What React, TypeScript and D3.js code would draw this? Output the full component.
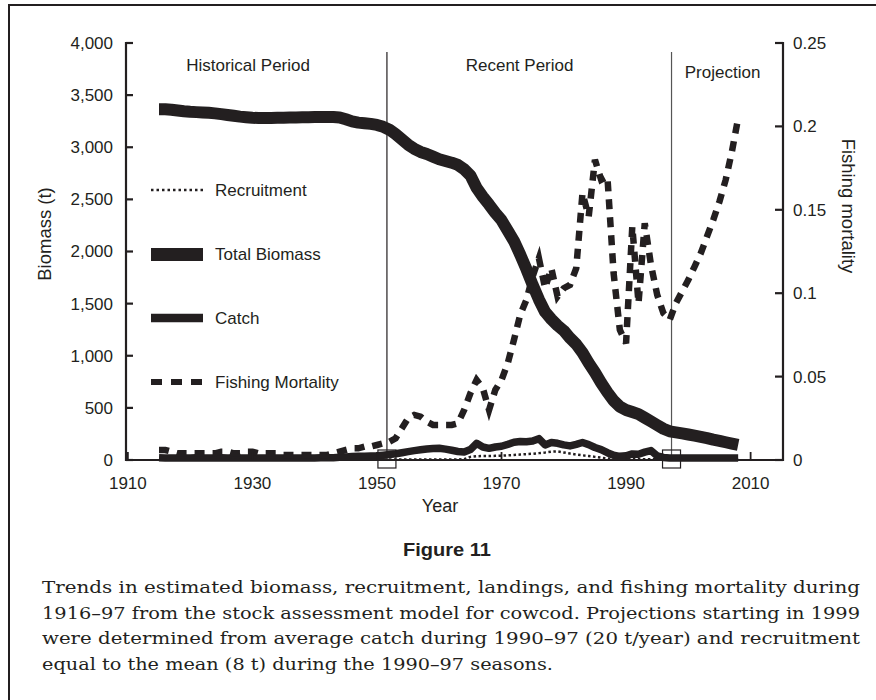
import React from "react";
import * as d3 from "d3";

// ---------- data ----------
const years: number[] = d3.range(1915, 2009);

const biomass: number[] = [
  3365, 3365, 3360, 3352, 3345, 3340, 3337, 3334, 3330, 3325,
  3318, 3310, 3302, 3294, 3288, 3283, 3280, 3280, 3280, 3282,
  3284, 3285, 3286, 3287, 3288, 3289, 3290, 3290, 3290, 3286,
  3268, 3248, 3236, 3230, 3224, 3214, 3196, 3168, 3125, 3075,
  3025, 2985, 2955, 2935, 2910, 2885, 2868, 2852, 2830, 2790,
  2730, 2610, 2525, 2450, 2370, 2300, 2200, 2100, 1970, 1830,
  1680, 1540, 1420, 1350, 1290, 1240, 1170, 1110, 1030, 930,
  840, 740, 650, 570, 512, 480, 460, 440, 405, 370,
  335, 300, 275, 265, 255, 245, 234, 222, 210, 196,
  184, 170, 157, 145,
];

const catchT: number[] = [
  22, 20, 20, 19, 20, 20, 21, 20, 20, 20,
  21, 20, 20, 20, 19, 20, 20, 20, 20, 19,
  19, 20, 20, 20, 20, 20, 21, 21, 22, 26,
  30, 33, 35, 37, 38, 40, 46, 53, 60, 70,
  80, 90, 98, 105, 110, 112, 104, 94, 82, 76,
  100, 160, 125, 112, 125, 132, 150, 170, 178, 175,
  182, 205, 145, 168, 160, 145, 135, 150, 168, 148,
  120, 100, 70, 45, 35, 40, 58, 55, 75, 90,
  40, 25, 20, 20, 20, 20, 20, 20, 20, 20,
  20, 20, 20, 20,
];

const recruitment: number[] = [
  5, 5, 5, 5, 5, 5, 5, 5, 5, 5,
  5, 5, 5, 5, 5, 5, 5, 5, 5, 5,
  5, 5, 5, 5, 5, 5, 5, 5, 5, 5,
  5, 5, 5, 5, 5, 5, 5, 5, 5, 5,
  5, 5, 5, 5, 5, 5, 5, 5, 5, 8,
  30, 36, 38, 38, 40, 42, 45, 48, 52, 56,
  60, 66, 72, 80, 82, 72, 62, 52, 45, 38,
  30, 22, 15, 10, 8, 8, 8, 8, 8, 8,
  8, 8, 8, 8, 8, 8, 8, 8, 8, 8,
  8, 8, 8, 8,
];

const fishingMortality: number[] = [
  0.006, 0.006, 0.005, 0.004, 0.004, 0.004, 0.004, 0.004, 0.004, 0.004,
  0.005, 0.005, 0.004, 0.004, 0.005, 0.005, 0.004, 0.004, 0.004, 0.004,
  0.003, 0.003, 0.003, 0.003, 0.003, 0.003, 0.003, 0.003, 0.004, 0.005,
  0.006, 0.007, 0.007, 0.008, 0.008, 0.009, 0.010, 0.011, 0.013, 0.019,
  0.025, 0.027, 0.026, 0.023, 0.021, 0.021, 0.021, 0.021, 0.022, 0.030,
  0.040, 0.048, 0.043, 0.030, 0.042, 0.048, 0.058, 0.072, 0.087, 0.096,
  0.110, 0.121, 0.103, 0.115, 0.098, 0.103, 0.105, 0.115, 0.160, 0.146,
  0.180, 0.168, 0.170, 0.112, 0.078, 0.070, 0.140, 0.094, 0.142, 0.117,
  0.099, 0.088, 0.084, 0.094, 0.101, 0.108, 0.116, 0.124, 0.134, 0.144,
  0.155, 0.168, 0.185, 0.205,
];

const biomassTicks: number[] = [0, 500, 1000, 1500, 2000, 2500, 3000, 3500, 4000];
const fTicks: number[] = [0, 0.05, 0.1, 0.15, 0.2, 0.25];
const fTickLabels: string[] = ["0", "0.05", "0.1", "0.15", "0.2", "0.25"];
const yearTicks: number[] = [1910, 1930, 1950, 1970, 1990, 2010];

const periodBounds: number[] = [1951.6, 1997.3];
const periodLabels: string[] = ["Historical Period", "Recent Period", "Projection"];
const periodLabelYears: number[] = [1929.3, 1972.9, 2005.5];

const legendLabels: string[] = ["Recruitment", "Total Biomass", "Catch", "Fishing Mortality"];

const captionTitle = "Figure 11";
const captionLines: string[] = [
  "Trends in estimated biomass, recruitment, landings, and fishing mortality during",
  "1916–97 from the stock assessment model for cowcod. Projections starting in 1999",
  "were determined from average catch during 1990–97 (20 t/year) and recruitment",
  "equal to the mean (8 t) during the 1990–97 seasons.",
];
const captionWidths: number[] = [818, 818, 818, 511];

// ---------- layout ----------
const W = 876;
const H = 700;
const INK = "#231f20";
const SANS = "'Liberation Sans', Arial, Helvetica, sans-serif";
const SERIF = "'DejaVu Serif', 'Liberation Serif', serif";

const x = d3.scaleLinear().domain([1909.7, 2015.2]).range([126, 783]);
const yL = d3.scaleLinear().domain([0, 4000]).range([460, 43]);
const yR = d3.scaleLinear().domain([0, 0.25]).range([460, 43]);

const fmt = d3.format(",");

export default function App() {
  const lineL = (vals: number[]) =>
    d3
      .line<number>()
      .x((_, i) => x(years[i]))
      .y((d) => yL(d))(vals) || "";
  const lineR = (vals: number[]) =>
    d3
      .line<number>()
      .x((_, i) => x(years[i]))
      .y((d) => yR(d))(vals) || "";

  const axisL = x.range()[0];
  const axisR = x.range()[1];
  const y0 = yL(0);
  const yTop = yL(4000);

  const legendX0 = 151;
  const legendX1 = 203;
  const legendYs = [190, 254.5, 318, 382];

  return (
    <svg
      width={W}
      height={H}
      viewBox={`0 0 ${W} ${H}`}
      style={{ position: "absolute", left: 0, top: 0, background: "#fff" }}
    >
      <rect x={0} y={0} width={W} height={H} fill="#fff" />
      {/* frame */}
      <rect x={9} y={5} width={900} height={720} fill="none" stroke={INK} strokeWidth={2} />

      {/* period boundaries */}
      {periodBounds.map((b, i) => (
        <line key={"pb" + i} x1={x(b)} x2={x(b)} y1={52} y2={y0} stroke={i === 0 ? INK : "#555"} strokeWidth={1.2} />
      ))}
      {periodLabels.map((t, i) => (
        <text
          key={"pl" + i}
          x={x(periodLabelYears[i])}
          y={i === 2 ? 72 : 65}
          dy="0.35em"
          textAnchor="middle"
          fontFamily={SANS}
          fontSize={17}
          fill={INK}
        >
          {t}
        </text>
      ))}

      {/* series */}
      <path d={lineL(biomass)} fill="none" stroke={INK} strokeWidth={12} strokeLinejoin="round" />
      <path d={lineL(catchT)} fill="none" stroke={INK} strokeWidth={7.5} strokeLinejoin="round" />
      <path d={lineL(recruitment)} fill="none" stroke={INK} strokeWidth={2.5} strokeDasharray="2.5,2.5" />
      <path d={lineR(fishingMortality)} fill="none" stroke={INK} strokeWidth={6.5} strokeDasharray="10,8" />

      {/* boundary squares */}
      {periodBounds.map((b, i) => (
        <rect key={"sq" + i} x={x(b) - 9} y={y0 - 10} width={18} height={18} fill="none" stroke={INK} strokeWidth={1.2} />
      ))}

      {/* axes */}
      <line x1={axisL} x2={axisR} y1={y0} y2={y0} stroke={INK} strokeWidth={2.2} />
      <line x1={axisL} x2={axisL} y1={yTop - 1} y2={y0 + 1} stroke={INK} strokeWidth={2.2} />
      <line x1={axisR} x2={axisR} y1={yR(0.25) - 1} y2={y0 + 1} stroke={INK} strokeWidth={2.2} />

      {biomassTicks.map((v) => (
        <g key={"lt" + v}>
          <line x1={axisL} x2={axisL + 7} y1={yL(v)} y2={yL(v)} stroke={INK} strokeWidth={2.2} />
          <text x={113} y={yL(v)} dy="0.35em" textAnchor="end" fontFamily={SANS} fontSize={17} fill={INK}>
            {fmt(v)}
          </text>
        </g>
      ))}
      {fTicks.map((v, i) => (
        <g key={"rt" + v}>
          <line x1={axisR - 8} x2={axisR} y1={yR(v)} y2={yR(v)} stroke={INK} strokeWidth={2.2} />
          <text x={793} y={yR(v)} dy="0.35em" textAnchor="start" fontFamily={SANS} fontSize={17} fill={INK}>
            {fTickLabels[i]}
          </text>
        </g>
      ))}
      {yearTicks.map((v) => (
        <g key={"xt" + v}>
          <line x1={x(v)} x2={x(v)} y1={y0} y2={y0 - 8} stroke={INK} strokeWidth={1.8} />
          <text x={x(v)} y={483} dy="0.35em" textAnchor="middle" fontFamily={SANS} fontSize={17} fill={INK}>
            {v}
          </text>
        </g>
      ))}

      {/* axis titles */}
      <text
        transform={`translate(45,234) rotate(-90)`}
        dy="0.35em"
        textAnchor="middle"
        fontFamily={SANS}
        fontSize={18.5}
        fill={INK}
      >
        Biomass (t)
      </text>
      <text
        transform={`translate(848,206) rotate(90)`}
        dy="0.35em"
        textAnchor="middle"
        fontFamily={SANS}
        fontSize={18.5}
        fill={INK}
      >
        Fishing mortality
      </text>
      <text x={440} y={506} dy="0.35em" textAnchor="middle" fontFamily={SANS} fontSize={18} fill={INK}>
        Year
      </text>

      {/* legend */}
      <line x1={legendX0} x2={legendX1} y1={legendYs[0]} y2={legendYs[0]} stroke={INK} strokeWidth={2.5} strokeDasharray="2.5,3" />
      <line x1={legendX0} x2={legendX1} y1={legendYs[1]} y2={legendYs[1]} stroke={INK} strokeWidth={13} />
      <line x1={legendX0} x2={legendX1} y1={legendYs[2]} y2={legendYs[2]} stroke={INK} strokeWidth={8.5} />
      <line x1={legendX0} x2={legendX1 + 1} y1={legendYs[3]} y2={legendYs[3]} stroke={INK} strokeWidth={6} strokeDasharray="11,9" />
      {legendLabels.map((t, i) => (
        <text key={"lg" + i} x={215} y={legendYs[i]} dy="0.35em" fontFamily={SANS} fontSize={17} fill={INK}>
          {t}
        </text>
      ))}

      {/* caption */}
      <text
        x={447}
        y={549}
        dy="0.35em"
        textAnchor="middle"
        fontFamily={SANS}
        fontWeight="bold"
        fontSize={19}
        textLength={88}
        lengthAdjust="spacingAndGlyphs"
        fill={INK}
      >
        {captionTitle}
      </text>
      {captionLines.map((t, i) => (
        <text
          key={"cap" + i}
          x={42}
          y={587 + i * 25.7}
          dy="0.35em"
          fontFamily={SERIF}
          fontSize={17}
          fill={INK}
          textLength={captionWidths[i]}
          lengthAdjust="spacingAndGlyphs"
        >
          {t}
        </text>
      ))}
    </svg>
  );
}
